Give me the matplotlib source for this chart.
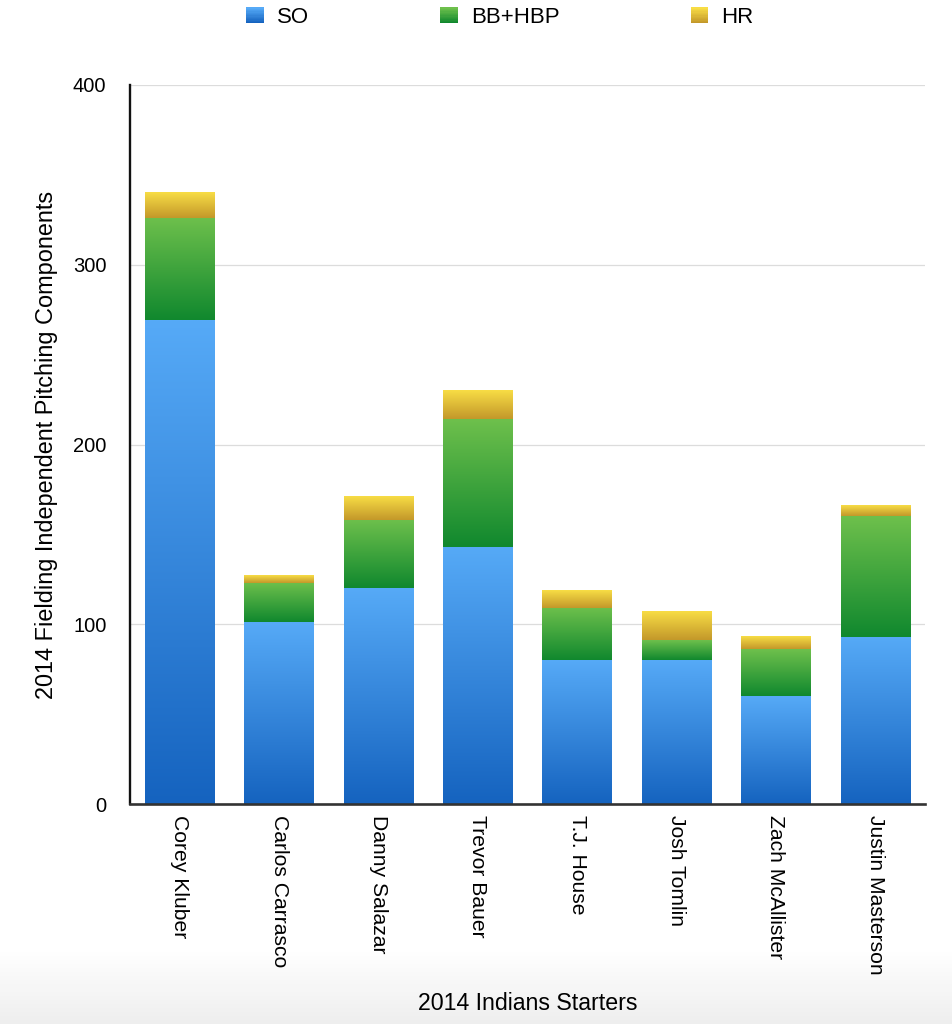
import numpy as np
import matplotlib
matplotlib.use("Agg")
import matplotlib.pyplot as plt
from matplotlib.colors import LinearSegmentedColormap, to_rgb
from matplotlib.patches import Rectangle
from matplotlib.legend_handler import HandlerBase

plt.rcParams['font.family'] = ['Liberation Sans', 'DejaVu Sans']

pitchers = ["Corey Kluber", "Carlos Carrasco", "Danny Salazar", "Trevor Bauer",
            "T.J. House", "Josh Tomlin", "Zach McAllister", "Justin Masterson"]
so = [269, 101, 120, 143, 80, 80, 60, 93]
bb_hbp = [57, 22, 38, 71, 29, 11, 26, 67]
hr = [14, 4, 13, 16, 10, 16, 7, 6]
series_names = ["SO", "BB+HBP", "HR"]
yticks = [0, 100, 200, 300, 400]

grad_colors = {
    "SO": ("#56aaf7", "#1563bf"),
    "BB+HBP": ("#6ec04c", "#10882e"),
    "HR": ("#f8dd45", "#c3982a"),
}

W, H = 953, 1024
fig = plt.figure(figsize=(W / 100, H / 100), dpi=100)

# background bottom gradient
bg = fig.add_axes([0, 0, 1, 1], zorder=-10)
bg.axis('off')
ys = np.linspace(0, 1, 256)
g = np.ones((256, 1, 3))
fade = np.clip((ys - (1 - 70 / H)) / (70 / H), 0, 1)
shade = 1 - 0.065 * fade
g[:, 0, :] = shade[:, None]
bg.imshow(g, extent=[0, 1, 0, 1], aspect='auto', origin='upper')
bg.set_xlim(0, 1); bg.set_ylim(0, 1)

ax = fig.add_axes([130 / W, 1 - 804 / H, 795 / W, (804 - 85) / H])
x = np.arange(len(pitchers))
width = 0.70

bottoms = np.zeros(len(pitchers))
containers = []
for name, vals in zip(series_names, [so, bb_hbp, hr]):
    c = ax.bar(x, vals, width, bottom=bottoms, color='none', edgecolor='none',
               label=name, zorder=3)
    containers.append((name, c))
    bottoms = bottoms + np.array(vals)

for name, c in containers:
    top_c, bot_c = grad_colors[name]
    cmap = LinearSegmentedColormap.from_list(name, [bot_c, top_c])
    grad = np.linspace(1, 0, 256).reshape(-1, 1)
    for p in c.patches:
        x0, y0, w, h = p.get_x(), p.get_y(), p.get_width(), p.get_height()
        ax.imshow(grad, cmap=cmap, vmin=0, vmax=1, extent=[x0, x0 + w, y0, y0 + h],
                  aspect='auto', origin='upper', zorder=3, interpolation='bilinear')

ax.set_xlim(-0.5, len(pitchers) - 0.5)
ax.set_ylim(0, 400)
ax.set_yticks(yticks)
ax.set_yticklabels([str(t) for t in yticks], fontsize=14.5)
ax.set_xticks(x)
ax.set_xticklabels(pitchers, rotation=-90, fontsize=15.2, va='top', ha='center')
ax.tick_params(axis='y', length=0, pad=17)
ax.tick_params(axis='x', length=0, pad=8)

ax.grid(axis='y', color='#dcdcdc', linewidth=0.9, zorder=0)
ax.set_axisbelow(True)
for s in ['top', 'right']:
    ax.spines[s].set_visible(False)
ax.spines['left'].set_color('#111111')
ax.spines['left'].set_linewidth(1.7)
ax.spines['bottom'].set_color('#333333')
ax.spines['bottom'].set_linewidth(1.9)
ax.spines['bottom'].set_zorder(5)

ax.set_ylabel("2014 Fielding Independent Pitching Components", fontsize=16.9)
ax.yaxis.set_label_coords((46 - 130) / 795, 0.5)
ax.yaxis.label.set_va('center')
ax.set_xlabel("2014 Indians Starters", fontsize=16.7)
ax.xaxis.set_label_coords(0.5, (804 - 1003) / 719)
ax.xaxis.label.set_va('center')


class GradHandler(HandlerBase):
    def __init__(self, top, bot):
        super().__init__()
        self.top = np.array(to_rgb(top)); self.bot = np.array(to_rgb(bot))

    def create_artists(self, legend, orig_handle, xdescent, ydescent, width,
                       height, fontsize, trans):
        n = 12
        arts = []
        for i in range(n):
            f = i / (n - 1)
            col = self.bot * (1 - f) + self.top * f
            r = Rectangle((-xdescent, -ydescent + height * i / n), width, height / n + 0.3,
                          facecolor=col, edgecolor='none', transform=trans)
            arts.append(r)
        return arts


handles = [c for _, c in containers]
handler_map = {c: GradHandler(*grad_colors[n]) for n, c in containers}
fig.legend(handles, series_names, handler_map=handler_map, loc='center',
           bbox_to_anchor=(500 / W, 1 - 17.5 / H), ncol=3, frameon=False,
           fontsize=16, handlelength=0.78, handleheight=0.72, handletextpad=0.6,
           columnspacing=5.9, borderpad=0, borderaxespad=0)

fig.savefig("out.png", dpi=100)
